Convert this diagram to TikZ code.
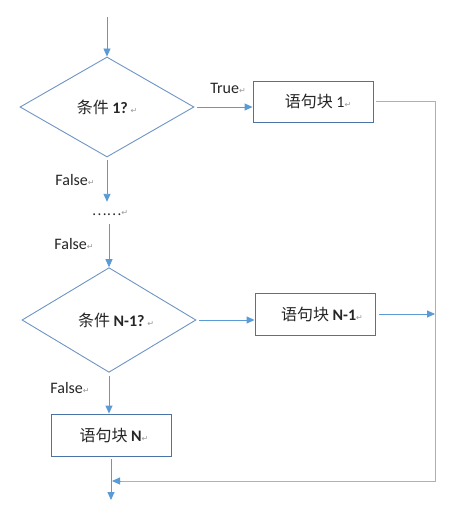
\documentclass[tikz,border=0pt]{standalone}
\usepackage{fontspec}
\setmainfont{Carlito}
\newfontfamily\cjk{Noto Sans CJK SC}
\newfontfamily\symfont{DejaVu Sans}
\usetikzlibrary{shapes.geometric,arrows.meta}
\definecolor{lineblue}{HTML}{5B9BD5}
\definecolor{retblue}{HTML}{8DB8E2}
\definecolor{boxblue}{HTML}{4A74A8}
\definecolor{diablue}{HTML}{6F94C6}
\definecolor{txt}{HTML}{262626}
\newcommand{\pmark}{{\symfont\fontsize{8}{8}\selectfont\textcolor{black!40}{↵}}}
\tikzset{
  cond/.style={diamond, draw=diablue, line width=0.9pt, minimum width=174, minimum height=100, inner sep=0, text=txt, font=\fontsize{16}{18}\selectfont},
  blockbox/.style={rectangle, draw=boxblue, line width=0.9pt, minimum width=120, minimum height=41, inner sep=0, text=txt, font=\fontsize{16}{18}\selectfont},
  lab/.style={inner sep=0, text=txt, font=\fontsize{16}{18}\selectfont},
  arr/.style={draw=lineblue, line width=0.9pt, -{Triangle[length=8pt,width=7pt]}},
  retline/.style={draw=retblue, line width=1pt},
  retarr/.style={draw=lineblue, line width=0.9pt, -{Triangle[length=8pt,width=7pt]}}
}
\begin{document}
\begin{tikzpicture}[x=1pt,y=-1pt]
\useasboundingbox (0,0) rectangle (456,516);
\fill[white] (0,0) rectangle (456,516);

% nodes
\node[cond] (d1) at (107,107) {\cjk 条件 {\rmfamily\bfseries 1?}\,\pmark};
\node[blockbox] (b1) at (313,101.5) {\hspace{10pt}\cjk 语句块 {\rmfamily 1}\pmark};
\node[lab, minimum height=22] (dots) at (110,213) {{\cjk\fontsize{14}{16}\selectfont ……}\pmark};
\node[cond] (d2) at (109,320) {\hspace{14pt}\cjk 条件 {\rmfamily\bfseries N-1?}\,\pmark};
\node[blockbox, minimum height=42] (b2) at (315,314) {\hspace{14pt}\cjk 语句块 {\rmfamily\bfseries N-1}\pmark};
\node[blockbox, minimum height=42] (bN) at (111,435) {\hspace{6pt}\cjk 语句块 {\rmfamily\bfseries N}\pmark};

% labels
\node[lab] (lt) at (228,88) {True\pmark};
\node[lab] (lf1) at (75,180) {False\pmark};
\node[lab] (lf2) at (74,244) {False\pmark};
\node[lab] (lf3) at (70,388) {False\pmark};

% coordinates
\coordinate (start) at (107,17);
\coordinate (rtop) at (435,101.5);
\coordinate (rbot) at (435,481);
\coordinate (merge) at (112,481);
\coordinate (finish) at (111,500);

% connectors
\draw[arr] (start) -- (d1.north);
\draw[arr] ([xshift=3pt]d1.east) -- (d1.east -| b1.west);
\draw[arr] ([yshift=-3pt]d1.south) -- (d1.south |- dots.north);
\draw[arr] (dots.south -| d2.north) -- (d2.north);
\draw[arr] ([xshift=3pt]d2.east) -- (d2.east -| b2.west);
\draw[arr] ([yshift=-3pt]d2.south) -- (d2.south |- bN.north);
\draw[arr] ([yshift=-3pt]bN.south) -- (finish);
\draw[arr] ([xshift=4pt]b2.east) -- (b2.east -| rbot);
\draw[retline] ([xshift=3pt]b1.east) -- (rtop) -- (rbot) -- ([xshift=8pt]merge);
\draw[retarr] ([xshift=9pt]merge) -- (merge);
\end{tikzpicture}
\end{document}
